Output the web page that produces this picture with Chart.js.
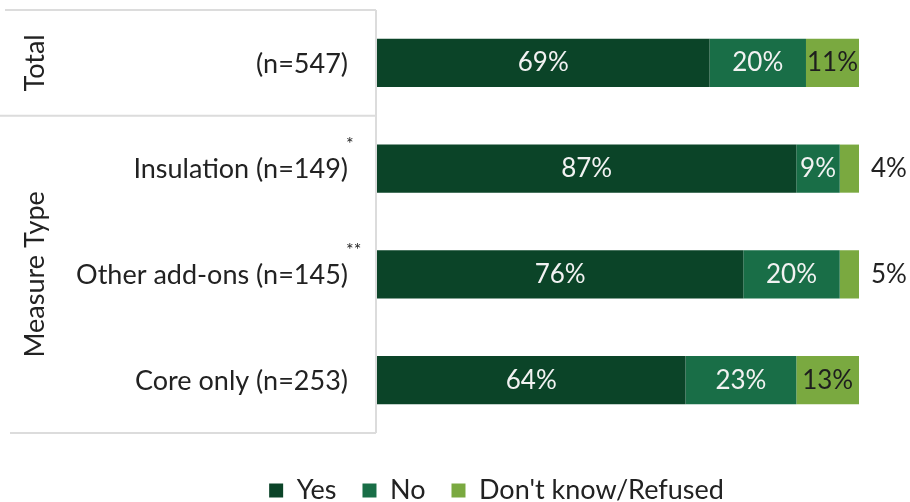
<!DOCTYPE html>
<html>
<head>
<meta charset="utf-8">
<script src="https://cdn.jsdelivr.net/npm/chart.js@4.4.1/dist/chart.umd.min.js"></script>
<style>
  html, body { margin: 0; padding: 0; background: #fff; }
  #wrap { width: 910px; height: 502px; }
</style>
</head>
<body>
<div id="wrap"><canvas id="myChart"></canvas></div>
<script>
const categories = ['(n=547)', 'Insulation (n=149)', 'Other add-ons (n=145)', 'Core only (n=253)'];
const marks = ['', '*', '**', ''];
const groups = ['Total', 'Measure Type'];
const groupRows = [[0, 0], [1, 3]];
const seriesNames = ['Yes', 'No', "Don't know/Refused"];
const yes = [69, 87, 76, 64];
const no = [20, 9, 20, 23];
const dontKnow = [11, 4, 5, 13];

const FONT = 'Lato, "Open Sans", sans-serif';
const colors = ['#0b4428', '#196e47', '#7aa940'];
const labelColors = ['#f2f2f2', '#f2f2f2', '#1e1e1e'];

// category text, group titles, table rules and value labels
const tableLayer = {
   id: 'tableLayer',
   afterDraw(chart) {
      const ctx = chart.ctx;
      const area = chart.chartArea;
      const y = chart.scales.y;
      const step = y.getPixelForValue(1) - y.getPixelForValue(0);
      ctx.save();

      // rules
      ctx.strokeStyle = '#dcdcdc';
      ctx.lineWidth = 2;
      ctx.beginPath();
      ctx.moveTo(area.left - 1, area.top);
      ctx.lineTo(area.left - 1, area.bottom);
      groupRows.forEach((g, i) => {
         const top = y.getPixelForValue(g[0]) - step / 2;
         ctx.moveTo(i === 0 ? 5 : 0, top);
         ctx.lineTo(area.left - 1, top);
      });
      ctx.moveTo(10, area.bottom);
      ctx.lineTo(area.left - 1, area.bottom);
      ctx.stroke();

      // category labels
      ctx.fillStyle = '#222';
      ctx.textBaseline = 'middle';
      ctx.textAlign = 'right';
      ctx.font = '27px ' + FONT;
      categories.forEach((c, i) => {
         ctx.fillText(c, 348, y.getPixelForValue(i) + 1);
      });
      ctx.font = '18px ' + FONT;
      ctx.textAlign = 'left';
      marks.forEach((m, i) => {
         if (m) ctx.fillText(m, 346, y.getPixelForValue(i) - 24);
      });

      // group titles
      ctx.font = '27px ' + FONT;
      ctx.textAlign = 'center';
      groupRows.forEach((g, i) => {
         const mid = (y.getPixelForValue(g[0]) + y.getPixelForValue(g[1])) / 2;
         ctx.save();
         ctx.translate(35, mid);
         ctx.rotate(-Math.PI / 2);
         ctx.fillText(groups[i], 0, 0);
         ctx.restore();
      });

      // value labels
      ctx.font = '26px ' + FONT;
      chart.data.datasets.forEach((ds, di) => {
         chart.getDatasetMeta(di).data.forEach((bar, i) => {
            const v = ds.data[i];
            const w = Math.abs(bar.x - bar.base);
            if (v < 8) {
               ctx.fillStyle = '#222';
               ctx.textAlign = 'left';
               ctx.fillText(v + '%', area.right + 12, bar.y);
            } else {
               ctx.fillStyle = labelColors[di];
               ctx.textAlign = 'center';
               ctx.fillText(v + '%', bar.base + w / 2, bar.y);
            }
         });
      });
      ctx.restore();
   }
};

var ctx = document.getElementById('myChart');
var myChart = new Chart(ctx, {
   type: 'bar',
   data: {
      labels: categories,
      datasets: [
         { label: seriesNames[0], data: yes, backgroundColor: colors[0] },
         { label: seriesNames[1], data: no, backgroundColor: colors[1] },
         { label: seriesNames[2], data: dontKnow, backgroundColor: colors[2] },
      ],
   },
   options: {
      indexAxis: 'y',
      responsive: true,
      maintainAspectRatio: false,
      animation: false,
      barPercentage: 0.5,
      categoryPercentage: 0.91,
      layout: {
         padding: { left: 134, right: 51, top: 10, bottom: -12 }
      },
      scales: {
         x: {
            stacked: true,
            min: 0,
            max: 100,
            ticks: { display: false },
            grid: { display: false },
            border: { display: false },
            afterFit: (s) => { s.height = 18; },
         },
         y: {
            stacked: true,
            ticks: { display: false },
            grid: { display: false },
            border: { display: false },
            afterFit: (s) => { s.width = 243; },
         },
      },
      plugins: {
         tooltip: { enabled: false },
         legend: {
            position: 'bottom',
            labels: {
               boxWidth: 14,
               boxHeight: 14,
               padding: 26,
               color: '#222',
               font: { family: FONT, size: 27 },
            }
         }
      }
   },
   plugins: [tableLayer],
});
</script>
</body>
</html>
